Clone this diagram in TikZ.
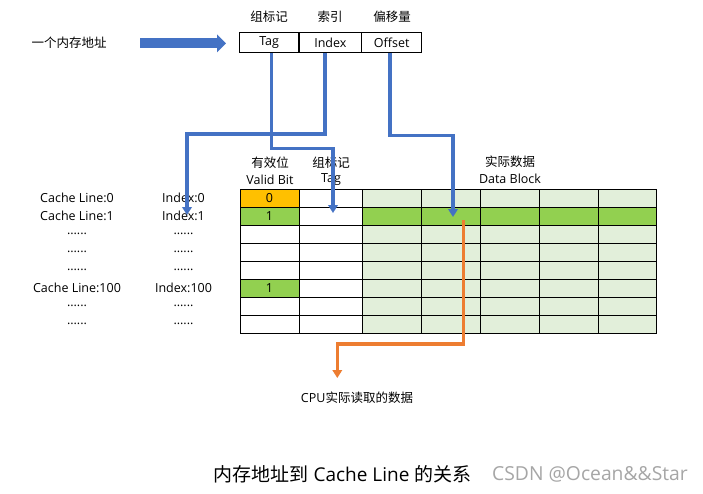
\documentclass[tikz,border=0pt]{standalone}
\usepackage{fontspec}
\setmainfont{Open Sans}
\newfontfamily\cjk{Noto Sans CJK SC}
\usetikzlibrary{arrows.meta}
\definecolor{bl}{HTML}{4472C4}
\definecolor{og}{HTML}{ED7D31}
\definecolor{gold}{HTML}{FFC000}
\definecolor{gr}{HTML}{92D050}
\definecolor{lgr}{HTML}{E2EFDA}
\definecolor{wm}{HTML}{A6A6A6}
\tikzset{
  lbl/.style={inner sep=0pt, font=\fontsize{12.5}{14}\selectfont},
  addr/.style={draw, line width=1.3pt, inner sep=0pt, minimum height=19.6pt, font=\fontsize{12.5}{14}\selectfont},
  bline/.style={bl, line width=3.1pt, -{Triangle[width=9.5pt,length=8pt]}},
  oline/.style={og, line width=3.1pt, -{Triangle[width=9.5pt,length=8pt]}},
  grid/.style={line width=0.9pt, black},
}
\begin{document}
\begin{tikzpicture}[x=1pt,y=-1pt]
\useasboundingbox[fill=white] (0,0) rectangle (703,493);

% address
\node[lbl] (addrtxt) at (69,43) {\cjk 一个内存地址};
\node[addr, minimum width=59.7pt] (tagcell) at (269.15,42.5) {Tag};
\node[addr, minimum width=62.7pt] (idxcell) at (330.35,42.5) {Index};
\node[addr, minimum width=60pt] (offcell) at (391.7,42.5) {Offset};
\node[lbl] (h1) at (269,17) {\cjk 组标记};
\node[lbl] (h2) at (330,17) {\cjk 索引};
\node[lbl] (h3) at (392,17) {\cjk 偏移量};
\coordinate (bigA) at (140,43.3);
\coordinate (bigB) at (226,43.3);
\draw[bl, line width=10pt, -{Triangle[width=17.5pt,length=9pt]}] (bigA) -- (bigB);

% table fills
\fill[lgr] (362.3,189) rectangle (656.7,333);
\fill[gr] (362.3,207) rectangle (656.7,225);
\fill[gold] (240,189) rectangle (299,207);
\fill[gr] (240,207) rectangle (299,225);
\fill[gr] (240,279) rectangle (299,297);
% grid
\foreach \yy in {189,207,225,243,261,279,297,315,333}
  \draw[grid] (240,\yy) -- (656.7,\yy);
\foreach \xx in {240,299,362.3,421.7,480,539.3,598.3,656.7}
  \draw[grid] (\xx,189) -- (\xx,333);

% headers
\node[lbl] (vb1) at (270,162.5) {\cjk 有效位};
\node[lbl] (vb2) at (270,180) {Valid Bit};
\node[lbl] (tg1) at (331,162.5) {\cjk 组标记};
\node[lbl] (tg2) at (331,180) {Tag};
\node[lbl] (db1) at (510,162) {\cjk 实际数据};
\node[lbl] (db2) at (510,179) {Data Block};

% valid bits
\node[lbl] (v0) at (269.5,198) {0};
\node[lbl] (v1) at (269.5,216) {1};
\node[lbl] (v5) at (269.5,288) {1};

% row labels
\node[lbl] (cl0) at (77,197.5) {Cache Line:0};
\node[lbl] (cl1) at (77,215.5) {Cache Line:1};
\node[lbl] (cl2) at (77,233.5) {......};
\node[lbl] (cl3) at (77,251.5) {......};
\node[lbl] (cl4) at (77,269.5) {......};
\node[lbl] (cl5) at (77,287.5) {Cache Line:100};
\node[lbl] (cl6) at (77,305.5) {......};
\node[lbl] (cl7) at (77,323.5) {......};
\node[lbl] (ix0) at (183.5,197.5) {Index:0};
\node[lbl] (ix1) at (183.5,215.5) {Index:1};
\node[lbl] (ix2) at (183.5,233.5) {......};
\node[lbl] (ix3) at (183.5,251.5) {......};
\node[lbl] (ix4) at (183.5,269.5) {......};
\node[lbl] (ix5) at (183.5,287.5) {Index:100};
\node[lbl] (ix6) at (183.5,305.5) {......};
\node[lbl] (ix7) at (183.5,323.5) {......};

% connectors
\coordinate (tagend) at (333,213);
\coordinate (idxend) at (187,215);
\coordinate (offend) at (453,217);
\coordinate (orstart) at (463.3,220);
\coordinate (cpuend) at (337.3,378);
\draw[bline] ([xshift=2.5pt]tagcell.south) -- ++(0,95.5) -| (tagend);
\draw[bline] ([xshift=-5.35pt]idxcell.south) -- ++(0,81) -| (idxend);
\draw[bline] ([xshift=-1.7pt]offcell.south) -- ++(0,82.7) -| (offend);
\draw[oline] (orstart) -- ++(0,124) -| (cpuend);

\node[lbl] (cpu) at (357,397.5) {CPU{\cjk 实际读取的数据}};

% caption
\node[inner sep=0pt, font=\fontsize{19}{22}\selectfont] (cap) at (342.5,474) {{\cjk 内存地址到} Cache Line {\cjk 的关系}};
\node[inner sep=0pt, text=wm, font=\fontsize{19.3}{22}\selectfont] (wmk) at (590,474) {CSDN @Ocean\&\&Star};
\end{tikzpicture}
\end{document}
